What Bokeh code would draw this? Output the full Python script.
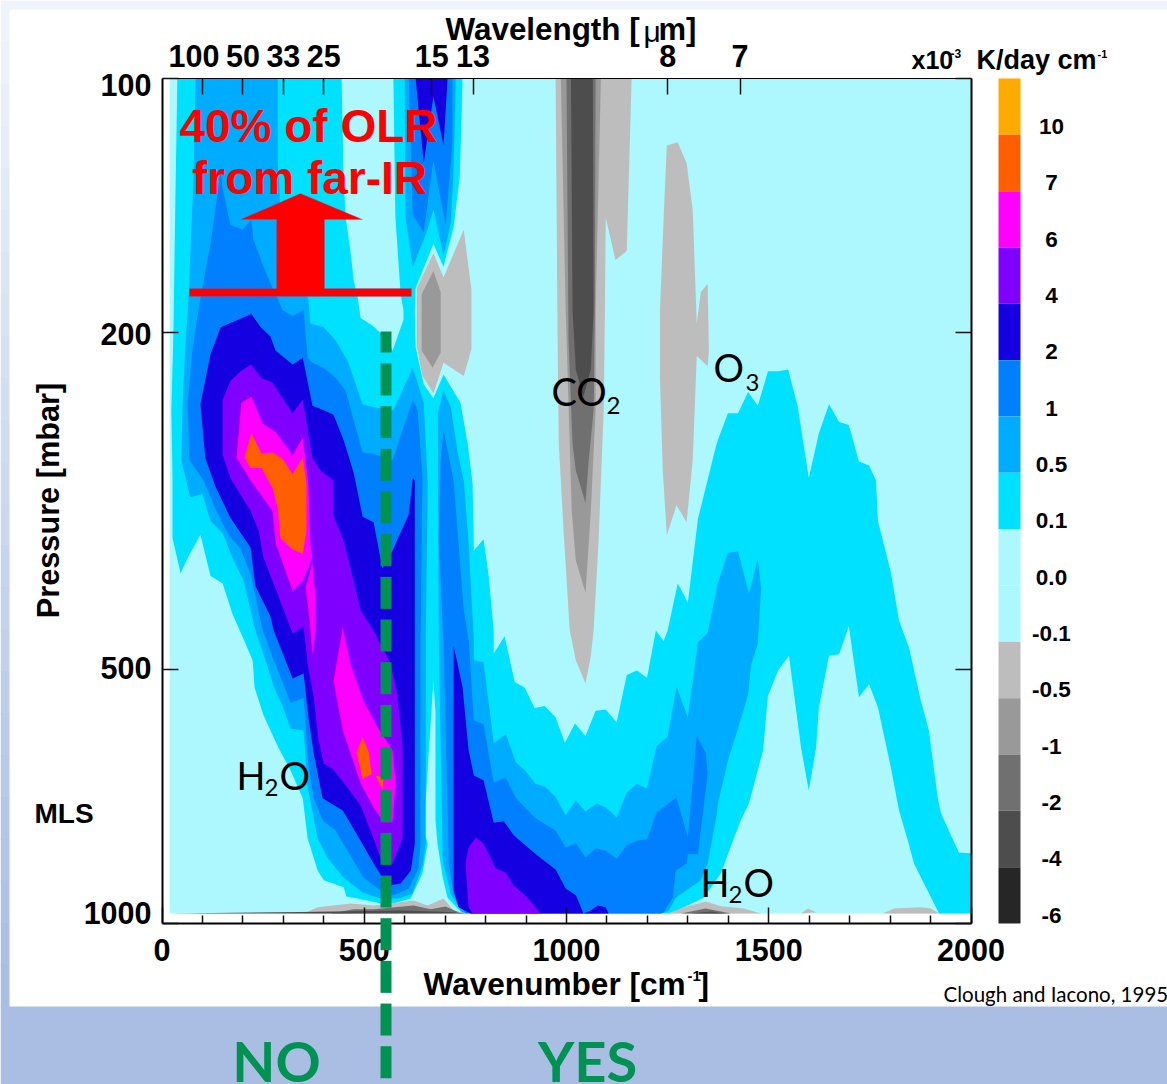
from bokeh.embed import file_html
from bokeh.models import (BoxAnnotation, FixedTicker, Label, LinearAxis, LogAxis,
                          PolyAnnotation, Range1d)
from bokeh.plotting import figure
from bokeh.resources import INLINE

# ---- values: contour outlines as (wavenumber cm-1, pressure mbar)
domain = [(19, 100), (2000, 100), (2000, 973), (19, 973)]

cyan_main = [(38,100),(33,139.5),(28,203),(23,247),(26,297),(26,350),(46,385),(65,368),(95,347),(120,388),(150,396),(174,430),(201,460),(224,488),(229,526),(251,567),(286,617),(318,659),(348,711),(360,793),(385,866),(400,889),(449,906),(456,929),(508,939),(540,947),(572,947),(615,934),(644,872),(657,804),(647,776),(671,516),(676,564),(676,755),(681,804),(694,882),(706,932),(731,960),(743,973),(1258,973),(1339,932),(1382,872),(1399,828),(1431,755),(1451,721),(1486,624),(1498,538),(1523,502),(1550,482),(1580,620),(1599,696),(1617,620),(1624,555),(1649,482),(1674,480),(1698,445),(1723,540),(1748,521),(1770,555),(1802,654),(1822,735),(1844,798),(1859,849),(1889,907),(1921,973),(2000,973),(2000,826),(1970,824),(1926,741),(1918,711),(1896,591),(1876,545),(1847,472),(1822,438),(1802,384),(1770,334),(1765,299),(1748,287),(1723,284),(1698,257),(1674,255),(1649,243),(1624,263),(1599,297),(1572,245),(1548,221),(1523,222),(1498,222),(1473,244),(1449,235),(1424,249),(1399,249),(1374,268),(1369,273),(1325,332),(1300,417),(1275,396),(1250,450),(1240,463),(1221,450),(1199,512),(1174,502),(1149,508),(1124,578),(1097,558),(1072,560),(1047,600),(1021,580),(996,611),(973,570),(946,553),(921,556),(897,526),(872,518),(847,457),(820,479),(820,450),(808,389),(795,351),(771,362),(768,302),(756,271),(738,242),(696,224),(671,239),(647,230),(627,208),(625,188),(627,177),(671,157),(696,167),(721,150),(736,131),(741,109),(743,100),(572,100),(577,146),(590,180),(597,188),(597,193),(570,210),(553,201),(540,200),(520,196),(491,192),(484,182),(474,173.5),(466,160),(454,146),(449,131),(444,100)]

sky_main = [(83,100),(78,131),(66,181),(58,206),(51,243),(48,283),(70,313),(100,310),(120,334),(150,345),(174,369),(201,392),(231,450),(256,488),(276,524),(300,556),(318,588),(350,591),(360,690),(385,793),(409,836),(449,882),(496,919),(540,934),(582,934),(619,922),(644,854),(652,804),(652,462),(657,302),(647,242),(620,220),(572,247),(523,245),(496,243),(459,216),(429,204),(400,197),(367,195),(362,183),(330,160),(293,143),(286,125),(286,100)]
sky_top = [(600,100),(602,146),(620,167),(652,153),(671,143),(696,162),(714,148),(721,128),(726,100)]
sky_right = [(696,234),(714,245),(731,277),(746,299),(758,355),(771,463),(771,488),(795,491),(820,612),(850,597),(875,645),(897,659),(924,684),(946,688),(973,708),(998,745),(1023,715),(1047,737),(1075,721),(1097,729),(1124,749),(1149,700),(1174,684),(1199,692),(1223,617),(1250,601),(1272,525),(1300,570),(1319,488),(1325,465),(1349,453),(1374,396),(1399,364),(1424,363),(1451,407),(1473,370),(1481,402),(1473,466),(1456,495),(1449,536),(1424,588),(1401,636),(1376,715),(1369,755),(1349,849),(1332,889),(1270,932),(1253,965),(1233,973),(743,971),(714,922),(694,842),(684,450),(682,249)]

azure_main = [(145,128.5),(150,135),(169,149),(199,151),(221,147),(226,155),(249,166),(273,177),(286,182),(298,188),(323,191),(350,188),(360,214),(372,217),(400,220),(429,226),(454,234),(474,254),(496,277),(523,278),(570,283),(620,240),(632,247),(644,297),(639,462),(639,804),(634,860),(610,909),(572,926),(540,914),(498,882),(459,820),(429,776),(397,755),(375,711),(362,646),(350,541),(318,548),(300,521),(276,488),(249,450),(219,386),(194,360),(164,347),(132,323),(103,299),(68,283),(63,243),(75,210),(90,188),(95,182),(120,157)]
azure_top = [(610,100),(620,145),(647,152),(671,125),(701,149),(718,119),(718,100)]
azure_right = [(696,261),(709,280),(721,299),(746,426),(758,462),(771,575),(795,581),(820,681),(850,672),(875,711),(924,751),(973,776),(998,813),(1023,804),(1047,835),(1072,815),(1097,820),(1124,838),(1149,808),(1174,798),(1199,795),(1223,739),(1272,709),(1300,791),(1322,600),(1344,628),(1349,664),(1332,776),(1325,828),(1300,828),(1297,849),(1270,866),(1263,932),(1240,970),(1233,973),(750,973),(721,922),(709,849),(696,462),(684,354),(689,283)]

blue_main = [(221,190),(145,197),(120,212),(95,243),(107,281),(132,304),(169,331),(219,359),(231,399),(268,433),(276,450),(323,513),(350,506),(362,570),(375,629),(397,711),(447,735),(491,798),(523,849),(558,902),(590,897),(615,866),(625,804),(625,299),(620,297),(610,328),(570,362),(545,380),(523,335),(496,330),(474,293),(449,268),(424,250),(400,247),(372,244),(348,214),(323,218),(281,210),(268,202),(244,197)]
blue_top = [(627,100),(647,126),(671,105),(696,120),(706,100)]
blue_right = [(721,469),(743,525),(758,624),(771,668),(795,677),(820,760),(845,757),(870,787),(924,828),(973,863),(998,909),(1023,926),(1042,973),(1060,965),(1077,952),(1097,957),(1104,973),(763,973),(733,957),(721,914)]

violet_main = [(221,218),(194,222),(169,228),(150,240),(150,279),(169,297),(219,325),(239,343),(251,369),(281,402),(323,454),(350,445),(360,493),(375,540),(387,607),(400,647),(422,656),(449,681),(491,725),(523,793),(545,849),(570,849),(590,804),(595,791),(595,619),(582,537),(565,492),(523,450),(491,426),(466,379),(447,350),(424,329),(424,299),(392,291),(372,281),(348,240),(323,249),(273,229),(244,226)]
violet_right = [(776,791),(758,813),(750,849),(758,957),(768,973),(936,973),(904,932),(870,902),(850,871),(825,860),(795,804)]

magenta_upper = [(221,238),(196,242),(184,281),(219,299),(273,325),(281,355),(323,404),(348,393),(372,369),(367,355),(362,302),(348,266),(323,279),(281,262),(249,256),(231,244)]
magenta_sliver = [(372,374),(355,400),(365,438),(372,481),(380,450),(380,415)]
magenta_lower = [(447,446),(424,516),(447,591),(491,683),(523,729),(548,759),(570,759),(578,683),(570,624),(533,586),(498,545),(466,493),(454,463)]

orange_upper = [(221,263),(204,281),(219,289),(246,289),(273,305),(286,322),(293,350),(323,361),(348,365),(357,343),(357,302),(348,281),(323,294),(298,282),(273,277),(246,278)]
orange_lower = [(496,602),(481,627),(496,674),(518,666),(511,627)]
orange_speck = [(528,668),(545,694),(548,672)]

grey1_15um = [(630,177),(671,161),(696,172),(746,151),(765,178),(765,209),(746,225),(696,217),(671,236),(644,225),(630,208)]
grey1_co2 = [(973,100),(978,204),(981,271),(993,345),(1008,450),(1023,488),(1047,520),(1060,483),(1067,450),(1079,355),(1092,247),(1095,188),(1097,146),(1121,164),(1149,160),(1161,100)]
grey1_o3 = [(1248,120),(1275,119),(1297,126),(1312,143),(1322,195),(1332,179),(1349,175),(1352,210),(1349,219),(1322,213),(1312,283),(1297,335),(1272,320),(1248,347),(1238,291),(1231,226),(1231,188),(1241,143)]
grey1_m1 = [(350,973),(385,957),(466,947),(523,952),(622,939),(657,952),(696,934),(721,965),(756,973)]
grey1_m2 = [(1250,973),(1290,957),(1344,942),(1382,954),(1438,960),(1481,973)]
grey1_m3 = [(1580,973),(1597,960),(1617,970)]
grey1_m4 = [(1782,973),(1810,960),(1876,957),(1901,960),(1921,973)]
grey2_15um = [(642,180),(671,169),(689,179),(689,211),(669,220),(642,210)]
grey2_co2 = [(986,100),(998,188),(1013,325),(1023,372),(1047,406),(1060,325),(1072,247),(1072,188),(1085,100)]
grey3_co2 = [(1000,100),(1005,204),(1015,271),(1023,291),(1047,318),(1055,283),(1067,247),(1070,188),(1072,100)]
grey3_m1 = [(417,973),(474,962),(523,962),(622,952),(664,962),(701,955),(733,970)]
grey3_m2 = [(1283,973),(1344,960),(1407,973)]
grey4_co2 = [(1011,100),(1015,188),(1023,221),(1042,238),(1060,221),(1067,188),(1065,100)]
grey4_m1 = [(21,973),(343,969),(590,965),(726,970),(750,973)]
grey4_m2 = [(1308,973),(1357,968),(1394,973)]

scale_labels = ["10", "7", "6", "4", "2", "1", "0.5", "0.1", "0.0", "-0.1", "-0.5", "-1", "-2", "-4", "-6"]
scale_colors = ["#FFAA00", "#FF5F00", "#FF00FF", "#8000FF", "#1400E0", "#0080FF", "#00ACFF", "#00E0FF",
                "#ADF8FF", "#ADF8FF", "#BDBDBD", "#999999", "#707070", "#4D4D4D", "#262626"]

x_ticks = [0, 500, 1000, 1500, 2000]
x_minor = [100, 200, 300, 400, 600, 700, 800, 900, 1100, 1200, 1300, 1400, 1600, 1700, 1800, 1900]
y_ticks = [100, 200, 500, 1000]
wavelength_ticks = [100, 200, 300, 400, 667, 769, 1250, 1429]
wavelength_labels = ["100\u00a0\u00a0", "50", "33", "25", "15", "13", "8", "7"]

PALE, CYAN, SKY, AZURE, BLUE, VIOLET, MAGENTA, ORANGE = ("#ADF8FF", "#00E0FF", "#00ACFF", "#0080FF",
                                                         "#1400E0", "#8000FF", "#FF00FF", "#FF5F00")
layers = [
    (PALE, [domain]),
    (CYAN, [cyan_main]),
    (SKY, [sky_main, sky_top, sky_right]),
    (AZURE, [azure_main, azure_top, azure_right]),
    (BLUE, [blue_main, blue_top, blue_right]),
    (VIOLET, [violet_main, violet_right]),
    (MAGENTA, [magenta_upper, magenta_sliver, magenta_lower]),
    (ORANGE, [orange_upper, orange_lower, orange_speck]),
    ("#BDBDBD", [grey1_15um, grey1_co2, grey1_o3, grey1_m1, grey1_m2, grey1_m3, grey1_m4]),
    ("#999999", [grey2_15um, grey2_co2]),
    ("#707070", [grey3_co2, grey3_m1, grey3_m2]),
    ("#4D4D4D", [grey4_co2, grey4_m1, grey4_m2]),
]

W, H = 1167, 1084
ARIAL = "Liberation Sans"
# the frame fills the page; the ranges are set so that 0-2000 and 100-1000 fall on the plotted box
FRAME_L, FRAME_R, FRAME_T, FRAME_B = 161.5, 970.5, 78.0, 923.0
per_px = 2000 / (FRAME_R - FRAME_L)
per_py = 1.0 / (FRAME_B - FRAME_T)
x0, x1 = -FRAME_L * per_px, (W - FRAME_L) * per_px
y0, y1 = 100 * 10 ** (-FRAME_T * per_py), 100 * 10 ** ((H - FRAME_T) * per_py)

p = figure(width=W, height=H, y_axis_type="log", x_range=Range1d(x0, x1), y_range=Range1d(y1, y0),
           output_backend="svg", toolbar_location=None, tools="", margin=0,
           min_border_left=0, min_border_right=0, min_border_top=0, min_border_bottom=0,
           background_fill_color="white", border_fill_color="white")
p.grid.visible = False
p.outline_line_color = None


def box(l, r, t, b, color, level="underlay"):
    p.add_layout(BoxAnnotation(left=l, right=r, top=t, bottom=b, left_units="canvas", right_units="canvas",
                               top_units="canvas", bottom_units="canvas", fill_color=color, fill_alpha=1,
                               line_color=None, level=level))


def txt(x, y, s, size, color="black", bold=True, font=ARIAL, align="left", baseline="middle", angle=0):
    p.add_layout(Label(x=x, y=y, x_units="canvas", y_units="canvas", text=s, text_font=font, angle=angle,
                       text_font_size=f"{size}px", text_font_style="bold" if bold else "normal",
                       text_color=color, text_align=align, text_baseline=baseline))


# slide background
n = 24
top_rgb, bot_rgb = (239, 243, 251), (170, 189, 227)
for i in range(n):
    f = i / (n - 1)
    c = "#%02X%02X%02X" % tuple(round(a + (b - a) * f) for a, b in zip(top_rgb, bot_rgb))
    box(0, W, 1006 * i / n, 1006 * (i + 1) / n + 1, c)
box(0, W, 1006, H, "#AABDE3")
box(9, W, 9, 1006, "white")

for color, polys in layers:
    for poly in polys:
        p.patch([q[0] for q in poly], [q[1] for q in poly], fill_color=color, line_color=None)

# axes, pinned to the plotted box inside the full-page frame
xa = p.xaxis[0]
xa.ticker = FixedTicker(ticks=x_ticks, minor_ticks=x_minor)
xa.fixed_location = 1000
xa.bounds = (0, 2000)
ya = p.yaxis[0]
ya.ticker = FixedTicker(ticks=y_ticks)
ya.major_label_overrides = {t: "" for t in y_ticks}
ya.fixed_location = 0
ya.bounds = (100, 1000)
ra = LogAxis(ticker=FixedTicker(ticks=y_ticks), major_label_overrides={t: "" for t in y_ticks},
             fixed_location=2000, bounds=(100, 1000))
ta = LinearAxis(ticker=FixedTicker(ticks=wavelength_ticks), fixed_location=100, bounds=(0, 2000),
                major_label_overrides=dict(zip(wavelength_ticks, wavelength_labels)))
p.add_layout(ra, "right")
p.add_layout(ta, "above")
for a in (xa, ya, ra, ta):
    a.axis_line_color = "black"
    a.axis_line_width = 2
    a.major_tick_in = 16
    a.major_tick_out = 0
    a.minor_tick_in = 8
    a.minor_tick_out = 0
    a.major_tick_line_color = "#111111"
    a.major_tick_line_width = 1.5
    a.minor_tick_line_color = "#111111"
    a.minor_tick_line_width = 1.5
    a.major_label_text_font = ARIAL
    a.major_label_text_font_style = "bold"
    a.major_label_text_font_size = "30.5px"
    a.major_label_text_color = "black"
xa.major_label_standoff = 15
ta.major_label_standoff = 6
ta.axis_line_width = 1

# left tick labels sit off their ticks at both ends of the axis
for s, y in zip(["100", "200", "500", "1000"], [84, 333, 667, 912]):
    txt(151, y, s, 30.5, align="right")

txt(48, 500, "Pressure [mbar]", 30.7, align="center", angle=1.5708)
txt(445, 29, "Wavelength [", 31.4)
txt(643, 31, "\u03bc", 30, bold=False)
txt(658, 29, "m]", 31)
txt(423, 983, "Wavenumber [cm", 31.6)
txt(687, 975, "-1", 15)
txt(698, 983, "]", 31.6)
txt(911, 59, "x10", 25)
txt(950, 53, "-3", 12)
txt(976, 59, "K/day cm", 27)
txt(1097, 53, "-1", 11)
txt(34, 813, "MLS", 28)

# colour scale
seg = 845 / 15
for i, (c, s) in enumerate(zip(scale_colors, scale_labels)):
    box(998, 1020, 78 + seg * i, 78 + seg * (i + 1), c, level="annotation")
    txt(1051, 78 + seg * (i + 1) - 8.2, s, 22.5, align="center")

# notes
NOTE = "Lato"
txt(236, 774, "H", 38, bold=False, font=NOTE)
txt(264, 787, "2", 24, bold=False, font=NOTE)
txt(279, 774, "O", 38, bold=False, font=NOTE)
txt(700, 881, "H", 38, bold=False, font=NOTE)
txt(728, 894, "2", 24, bold=False, font=NOTE)
txt(743, 881, "O", 38, bold=False, font=NOTE)
txt(551, 390, "CO", 38, bold=False, font=NOTE)
txt(606, 405, "2", 24, bold=False, font=NOTE)
txt(713, 366, "O", 38, bold=False, font=NOTE)
txt(745, 382, "3", 24, bold=False, font=NOTE)
txt(943, 993, "Clough and Iacono, 1995", 20.5, bold=False, font=NOTE)

# red arrow and text
p.add_layout(PolyAnnotation(xs=[300, 362, 324, 324, 411, 411, 189, 189, 276, 276, 240],
                            ys=[193, 219, 219, 288, 288, 296, 296, 288, 288, 219, 219],
                            xs_units="canvas", ys_units="canvas", fill_color="#FF0000", fill_alpha=1,
                            line_color="#5B6FD0", line_width=1, level="overlay"))
txt(308, 125, "40% of OLR", 46, color="#FF0000", align="center")
txt(309, 177, "from far-IR", 46, color="#FF0000", align="center")

# green divider and labels
box(380, 391, 331, 352, "#009252", level="overlay")
for k in range(17):
    box(380, 391, 363 + 42.67 * k, 395 + 42.67 * k, "#009252", level="overlay")
txt(276, 1060, "NO", 56, color="#009252", font=NOTE, align="center")
txt(587, 1060, "YES", 56, color="#009252", font=NOTE, align="center")

open("out.html", "w").write(file_html(p, INLINE))
